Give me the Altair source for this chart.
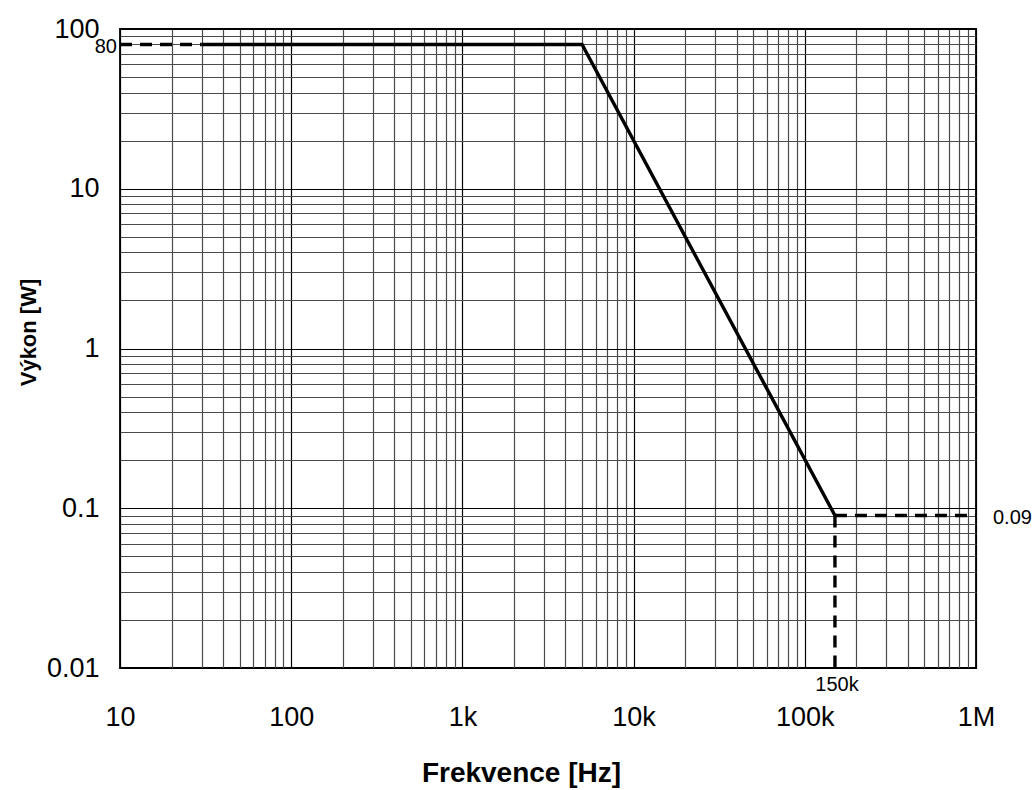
import altair as alt
import pandas as pd

# ---- data ----
solid_x = [30, 5000, 150000]
solid_y = [80, 80, 0.09]

dash_seg = ["a", "a", "b", "b", "c", "c"]
dash_x = [10, 30, 150000, 1000000, 150000, 150000]
dash_y = [80, 80, 0.09, 0.09, 0.09, 0.01]

ann_text = ["80", "0.09", "150k"]
ann_x = [10, 1000000, 150000]
ann_y = [80, 0.09, 0.01]

x_major = [10, 100, 1000, 10000, 100000, 1000000]
x_major_labels = ["10", "100", "1k", "10k", "100k", "1M"]
y_major = [0.01, 0.1, 1, 10, 100]
y_major_labels = ["0.01", "0.1", "1", "10", "100"]

# minor grid values (1..9 per decade)
x_grid = sorted(set([round(k * 10 ** d, 6) for d in range(1, 6) for k in range(1, 10)] + [1000000]))
y_grid = sorted(set([round(k * 10.0 ** d, 6) for d in range(-2, 2) for k in range(1, 10)] + [100]))


def label_expr(vals, labs):
    expr = "''"
    for v, l in zip(reversed(vals), reversed(labs)):
        expr = f"abs(datum.value - {v}) < {v}*1e-6 ? '{l}' : ({expr})"
    return expr


decade_test = "abs(log(datum.value)/LN10 - round(log(datum.value)/LN10)) < 0.001"
grid_color = {"condition": {"test": decade_test, "value": "#000000"}, "value": "#4a4a4a"}

solid_df = pd.DataFrame({"f": solid_x, "p": solid_y, "o": list(range(len(solid_x)))})
dash_df = pd.DataFrame({"seg": dash_seg, "f": dash_x, "p": dash_y, "o": list(range(len(dash_x)))})
ann_df = pd.DataFrame({"t": ann_text, "f": ann_x, "p": ann_y})

FONT = "Liberation Sans"

x_scale = alt.Scale(type="log", domain=[10, 1000000], nice=False)
y_scale = alt.Scale(type="log", domain=[0.01, 100], nice=False)

x_axis = alt.Axis(
    values=x_grid,
    labelExpr=label_expr(x_major, x_major_labels),
    labelOverlap=False,
    labelFlush=False,
    labelAlign="center",
    labelFont=FONT,
    labelFontSize=27,
    labelColor="#000000",
    labelPadding=36,
    ticks=False,
    domain=False,
    grid=True,
    gridColor=grid_color,
    gridWidth=1.2,
    title="Frekvence [Hz]",
    titleFont=FONT,
    titleFontSize=28,
    titleFontWeight="bold",
    titleColor="#000000",
    titleX=401,
    titleY=105,
    titleBaseline="middle",
    titleAlign="center",
)

y_axis = alt.Axis(
    values=y_grid,
    labelExpr=label_expr(y_major, y_major_labels),
    labelOverlap=False,
    labelFlush=False,
    labelFont=FONT,
    labelFontSize=27,
    labelColor="#000000",
    labelPadding=21,
    labelBaseline="middle",
    ticks=False,
    domain=False,
    grid=True,
    gridColor=grid_color,
    gridWidth=1.2,
    title="Výkon [W]",
    titleFont=FONT,
    titleFontSize=22,
    titleFontWeight="bold",
    titleColor="#000000",
    titleAngle=270,
    titleX=-92,
    titleY=303,
    titleBaseline="middle",
    titleAlign="center",
)

solid = alt.Chart(solid_df).mark_line(color="#000000", strokeWidth=3.4).encode(
    x=alt.X("f:Q", scale=x_scale, axis=x_axis),
    y=alt.Y("p:Q", scale=y_scale, axis=y_axis),
    order="o:Q",
)

dashed = alt.Chart(dash_df).mark_line(color="#000000", strokeWidth=3.4, strokeDash=[12, 8]).encode(
    x=alt.X("f:Q", scale=x_scale),
    y=alt.Y("p:Q", scale=y_scale),
    detail="seg:N",
    order="o:Q",
)

base_ann = alt.Chart(ann_df).encode(
    x=alt.X("f:Q", scale=x_scale),
    y=alt.Y("p:Q", scale=y_scale),
    text="t:N",
)

ann80 = base_ann.transform_filter(alt.datum.t == "80").mark_text(
    font=FONT, fontSize=20, color="#000000", align="right", baseline="middle", dx=-3, dy=3
)
ann009 = base_ann.transform_filter(alt.datum.t == "0.09").mark_text(
    font=FONT, fontSize=20, color="#000000", align="left", baseline="middle", dx=17, dy=2
)
ann150 = base_ann.transform_filter(alt.datum.t == "150k").mark_text(
    font=FONT, fontSize=20, color="#000000", align="center", baseline="middle", dx=2, dy=17
)

chart = (
    alt.layer(solid, dashed, ann80, ann009, ann150)
    .properties(
        width=856,
        height=639,
        autosize=alt.AutoSizeParams(type="none"),
        padding={"left": 120, "top": 29, "right": 59, "bottom": 122},
        background="#ffffff",
    )
    .configure_view(stroke="#000000", strokeWidth=1.8)
)

chart.save("out.html", embed_options={"renderer": "svg", "actions": False})
